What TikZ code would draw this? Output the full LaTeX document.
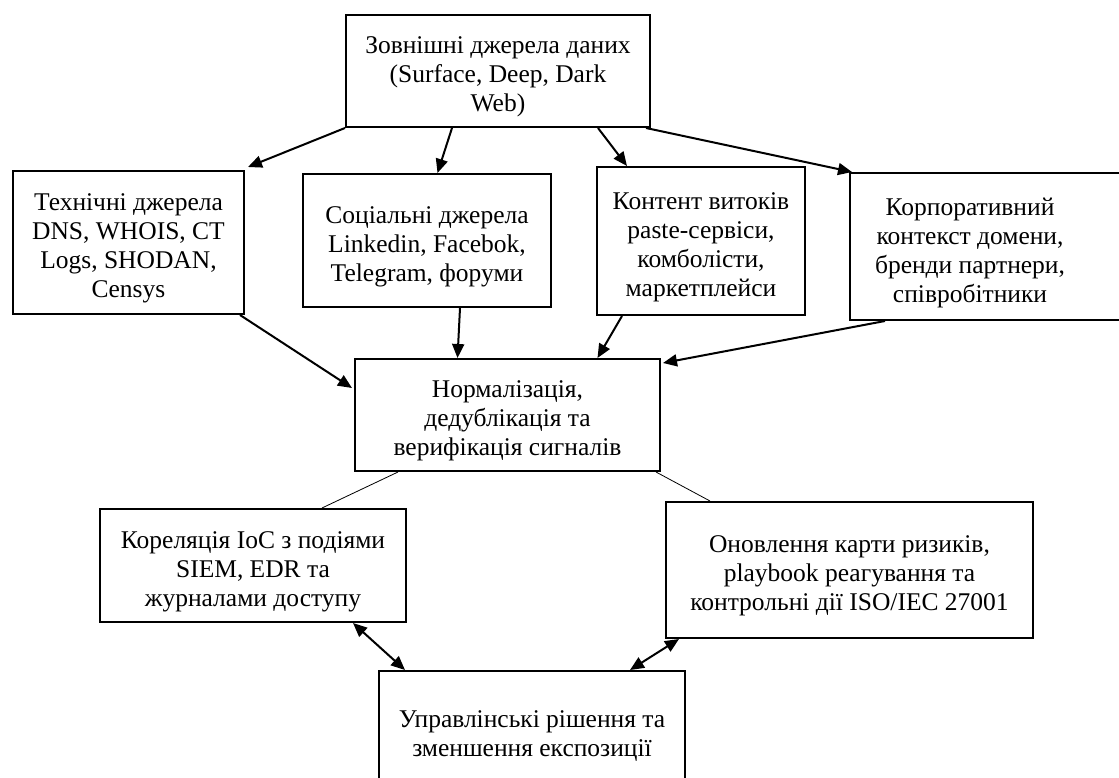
\documentclass[tikz,border=0pt]{standalone}
\usepackage{fontspec}
\setmainfont{Liberation Serif}
\usetikzlibrary{arrows.meta}
\newcommand{\topgap}{\rule{0pt}{29pt}}
\begin{document}
\begin{tikzpicture}[x=1pt,y=-1pt,>={Triangle[length=14pt,width=12pt]}]
	\tikzstyle{text_style} = [align=center, font=\fontsize{25.5}{29}\selectfont, inner sep=0pt]
	\tikzstyle{box_style} = [text_style, draw, line width=2pt]
	\tikzstyle{link_style} = [line width=2pt, ->]
	\tikzstyle{thin_style} = [line width=0.8pt]
	\useasboundingbox (0,0) rectangle (1119,778);
	%%% boxes
	\node[box_style, minimum width=304pt, minimum height=112pt] (top) at (498,71) {\topgap Зовнішні джерела даних\\(Surface, Deep, Dark\\Web)};
	\node[box_style, minimum width=231pt, minimum height=143pt] (tech) at (128.5,242.5) {\topgap Технічні джерела\\DNS, WHOIS, CT\\Logs, SHODAN,\\Censys};
	\node[box_style, minimum width=248pt, minimum height=133pt] (social) at (427,240.5) {\topgap Соціальні джерела\\Linkedin, Facebok,\\Telegram, форуми};
	\node[box_style, minimum width=208pt, minimum height=148pt] (leak) at (701,241) {\topgap Контент витоків\\paste-сервіси,\\комболісти,\\маркетплейси};
	\node[box_style, minimum width=275pt, minimum height=147pt] (corp) at (987.5,246.5) {};
	\node[text_style] (corp-text) at (970,247) {\topgap Корпоративний\\контекст домени,\\бренди партнери,\\співробітники};
	\node[box_style, minimum width=305pt, minimum height=112pt] (norm) at (507.5,415) {\topgap Нормалізація,\\дедублікація та\\верифікація сигналів};
	\node[box_style, minimum width=306pt, minimum height=113pt] (corr) at (253,565.5) {\topgap Кореляція IoC з подіями\\SIEM, EDR та\\журналами доступу};
	\node[box_style, minimum width=367pt, minimum height=136pt] (upd) at (849.5,570) {\topgap Оновлення карти ризиків,\\playbook реагування та\\контрольні дії ISO/IEC 27001};
	\node[box_style, minimum width=306pt, minimum height=118pt] (mgmt) at (532,730) {\topgap Управлінські рішення та\\зменшення експозиції};
	%%% sources
	\draw[link_style] (top.south west) -- ([xshift=3pt,yshift=3pt]tech.north east);
	\draw[link_style] ([xshift=-46pt]top.south) -- ([xshift=10.5pt]social.north);
	\draw[link_style] ([xshift=100pt]top.south) -- ([xshift=-74pt]leak.north);
	\draw[link_style] ([xshift=-5pt]top.south east) -- ([xshift=3pt]corp.north west);
	%%% to normalisation
	\draw[link_style] ([xshift=-5pt]tech.south east) -- ([xshift=-2pt,yshift=27pt]norm.west);
	\draw[link_style] ([xshift=33pt]social.south) -- ([xshift=-50pt]norm.north);
	\draw[link_style] ([xshift=-79pt]leak.south) -- ([xshift=90pt]norm.north);
	\draw[link_style] ([xshift=-102.5pt]corp.south) -- ([xshift=2pt,yshift=-5pt]norm.north east);
	%%% outputs
	\draw[thin_style] ([xshift=-109.5pt]norm.south) -- ([xshift=69pt]corr.north);
	\draw[thin_style] ([xshift=-5pt]norm.south east) -- ([xshift=-139.5pt]upd.north);
	\draw[link_style, <->] ([xshift=-54pt]corr.south east) -- ([xshift=-127pt]mgmt.north);
	\draw[link_style, <->] ([xshift=14pt]upd.south west) -- ([xshift=98pt]mgmt.north);
\end{tikzpicture}
\end{document}
